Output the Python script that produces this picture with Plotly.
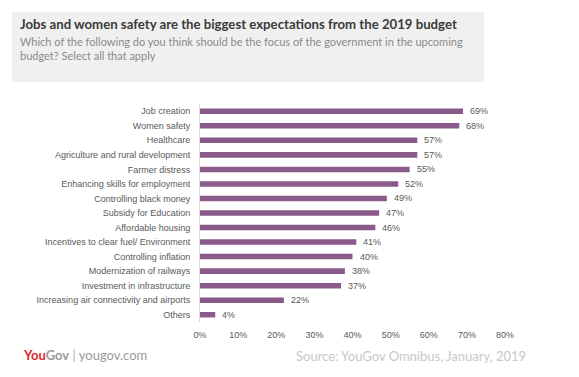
import plotly.graph_objects as go

categories = [
    "Job creation", "Women safety", "Healthcare", "Agriculture and rural development",
    "Farmer distress", "Enhancing skills for employment", "Controlling black money",
    "Subsidy for Education", "Affordable housing", "Incentives to clear fuel/ Environment",
    "Controlling inflation", "Modernization of railways", "Investment in infrastructure",
    "Increasing air connectivity and airports", "Others",
]
values = [69, 68, 57, 57, 55, 52, 49, 47, 46, 41, 40, 38, 37, 22, 4]
tick_vals = [0, 10, 20, 30, 40, 50, 60, 70, 80]
tick_text = [f"{v}%" for v in tick_vals]

O = 8  # page body margin offset
W, H = 579 - O, 377 - O
L, R, T, B = 200 - O, 74, 104 - O, 55
pw, ph = W - L - R, H - T - B

def px(x):
    return (x - O - L) / pw

def py(y):
    return (H - B - (y - O)) / ph

fig = go.Figure(go.Bar(
    x=values, y=categories, orientation="h",
    marker=dict(color="#8a5a8a", line=dict(width=0)),
    width=0.38,
    hoverinfo="x+y",
))

label_font = dict(family="Liberation Sans, Arial", size=9, color="#595959")
annotations = [
    dict(x=v, y=c, xref="x", yref="y", text=f"{v}%", xanchor="left", yanchor="middle",
         xshift=5, showarrow=False, font=label_font)
    for c, v in zip(categories, values)
]

annotations += [
    dict(xref="paper", yref="paper", x=px(18), y=py(24), xanchor="left", yanchor="middle",
         text="<b>Jobs and women safety are the biggest expectations from the 2019 budget</b>",
         showarrow=False, font=dict(family="Lato, Open Sans", size=13.2, color="#3a3a3a")),
    dict(xref="paper", yref="paper", x=px(18), y=py(48), xanchor="left", yanchor="middle",
         text="Which of the following do you think should be the focus of the government in the upcoming<br>budget? Select all that apply",
         align="left", showarrow=False,
         font=dict(family="Lato, Open Sans", size=11, color="#8a8a8a")),
    dict(xref="paper", yref="paper", x=px(21), y=py(355), xanchor="left", yanchor="middle",
         text="<b><span style='color:#e0262b'>You</span><span style='color:#9a9a9a'>Gov</span></b><span style='color:#b0b0b0'> | </span><span style='color:#9a9a9a'>yougov.com</span>",
         showarrow=False, font=dict(family="Lato, Open Sans", size=13, color="#9a9a9a")),
    dict(xref="paper", yref="paper", x=px(528), y=py(356), xanchor="right", yanchor="middle",
         text="Source: YouGov Omnibus, January, 2019",
         showarrow=False, font=dict(family="Lato, Open Sans", size=13, color="#c8c8c8")),
]

fig.update_layout(
    width=W, height=H,
    margin=dict(l=L, r=R, t=T, b=B, autoexpand=False),
    paper_bgcolor="white", plot_bgcolor="white",
    showlegend=False,
    xaxis=dict(range=[0, 80], tickvals=tick_vals, ticktext=tick_text,
               showgrid=False, zeroline=False, showline=False, automargin=False,
               tickfont=label_font, ticks="", ticklen=0, ticklabelstandoff=6),
    yaxis=dict(autorange="reversed", showgrid=False, zeroline=False, automargin=False,
               showline=True, linecolor="#d9d9d9", linewidth=1,
               tickfont=label_font, ticks="", ticklabelstandoff=7),
    shapes=[dict(type="rect", xref="paper", yref="paper",
                 x0=px(12), x1=px(484), y0=py(82), y1=py(12),
                 fillcolor="#f0f0f0", line=dict(width=0), layer="below")],
    annotations=annotations,
)

fig.write_html("out.html")
